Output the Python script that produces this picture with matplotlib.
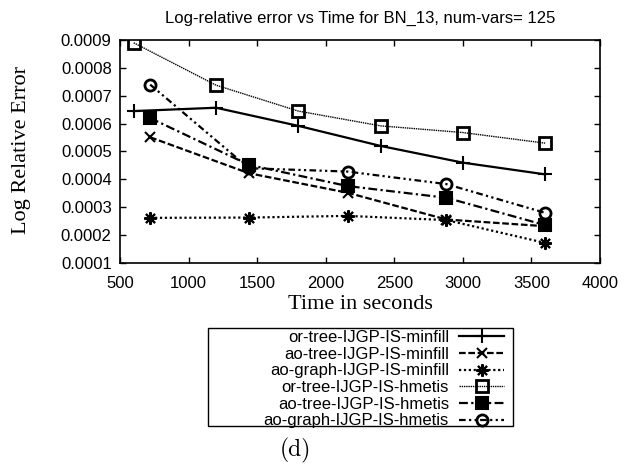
import matplotlib.pyplot as plt
from matplotlib.patches import Rectangle

# time points (seconds)
t_or = [600, 1200, 1800, 2400, 3000, 3600]
t_ao = [720, 1440, 2160, 2880, 3600]

or_tree_minfill = [0.000645, 0.000657, 0.000592, 0.000520, 0.000460, 0.000418]
ao_tree_minfill = [0.000551, 0.000422, 0.000352, 0.000256, 0.000232]
ao_graph_minfill = [0.000262, 0.000263, 0.000269, 0.000254, 0.000172]
or_tree_hmetis = [0.000890, 0.000738, 0.000645, 0.000592, 0.000568, 0.000530]
ao_tree_hmetis = [0.000620, 0.000452, 0.000376, 0.000334, 0.000236]
ao_graph_hmetis = [0.000740, 0.000440, 0.000428, 0.000383, 0.000280]

labels = ["or-tree-IJGP-IS-minfill", "ao-tree-IJGP-IS-minfill",
          "ao-graph-IJGP-IS-minfill", "or-tree-IJGP-IS-hmetis",
          "ao-tree-IJGP-IS-hmetis", "ao-graph-IJGP-IS-hmetis"]

sans = "Liberation Sans"
serif = "Liberation Serif"
W, H = 640.0, 465.0

fig = plt.figure(figsize=(6.4, 4.65), dpi=100)
ax = fig.add_axes([120 / W, 1 - 263 / H, 480 / W, 223 / H])

k = dict(color="k", mew=1.5)
l1, = ax.plot(t_or, or_tree_minfill, ls="-", lw=1.6, marker="+", ms=10, **k)
l2, = ax.plot(t_ao, ao_tree_minfill, ls=(0, (3, 1.2)), lw=1.6, marker="x", ms=7.5, **k)
l3, = ax.plot(t_ao, ao_graph_minfill, ls=(0, (1, 1.2)), lw=1.6, marker=(8, 2, 0), ms=9, **k)
l4, = ax.plot(t_or, or_tree_hmetis, ls=(0, (1, 0.6)), lw=1.0, marker="s", ms=8,
              mfc="none", color="k", mew=2)
l5, = ax.plot(t_ao, ao_tree_hmetis, ls=(0, (4, 1.5, 1, 1.5)), lw=1.6, marker="s", ms=8,
              mfc="k", **k)
l6, = ax.plot(t_ao, ao_graph_hmetis, ls=(0, (3, 1.5, 1, 1.5, 1, 1.5)), lw=1.6, marker="o",
              ms=8, mfc="none", color="k", mew=2)

ax.set_xlim(500, 4000)
ax.set_ylim(0.0001, 0.0009)
ax.set_xticks(range(500, 4001, 500))
ax.set_yticks([i * 0.0001 for i in range(1, 10)])
ax.set_yticklabels(["%.4f" % (i * 0.0001) for i in range(1, 10)])
ax.tick_params(direction="in", length=4, width=1, top=True, right=True,
               labelsize=12, pad=6)
ax.tick_params(axis="x", pad=9)
for lab in ax.get_xticklabels() + ax.get_yticklabels():
    lab.set_family(sans)
for s in ax.spines.values():
    s.set_linewidth(1.2)

ax.set_title("Log-relative error vs Time for BN_13, num-vars= 125",
             family=sans, fontsize=12, pad=12)
ax.set_xlabel("Time in seconds", family=serif, fontsize=16, labelpad=3)
fig.text(22 / W, 1 - 150 / H, "Log Relative Error", family=serif, fontsize=16,
         rotation=90, ha="center", va="center")

leg = fig.legend([l1, l2, l3, l4, l5, l6], labels, loc="upper right",
                 bbox_to_anchor=(504 / W, 1 - 330 / H), bbox_transform=fig.transFigure,
                 markerfirst=False, frameon=False,
                 prop={"family": sans, "size": 12}, labelspacing=0.1,
                 handlelength=2.7, handletextpad=0.6, borderpad=0,
                 borderaxespad=0)
fig.patches.append(Rectangle((208 / W, 1 - 426 / H), 305 / W, 98 / H,
                             transform=fig.transFigure, fill=False,
                             edgecolor="k", lw=1.0))

fig.text(295 / W, 1 - 450 / H, "(d)", family="cmr10", fontsize=17,
         ha="center", va="center")

fig.savefig("out.png", dpi=100)
